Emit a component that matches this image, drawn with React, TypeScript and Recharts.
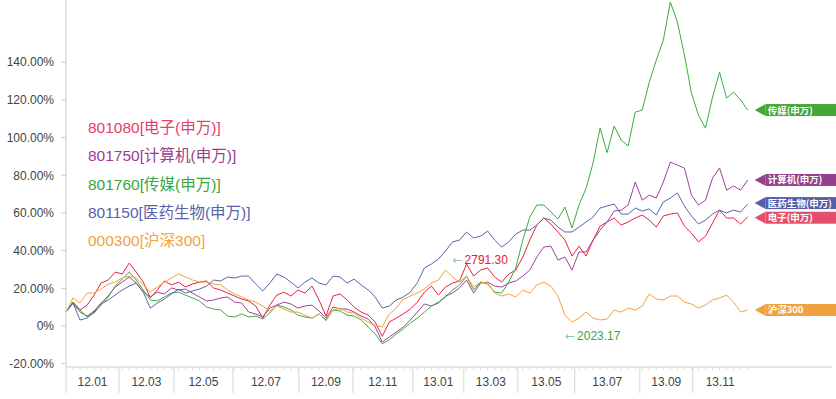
import { LineChart, Line, XAxis, YAxis, ReferenceDot } from "recharts";

// weekly readings, % change, Dec 2011 .. Dec 2013
const electronics = [
  7.4, 12.7, 8.5, 11.1, 16.4, 22.8, 24.4, 28.6, 27.6, 33.4, 28.6, 23.3, 14.9, 19.1, 23.9, 21.8, 23.3, 20.7, 22.3, 23.3,
  23.9, 20.2, 19.1, 17.5, 15.9, 14.3, 13.3, 10.6, 4.2, 11.1, 16.4, 18.0, 15.9, 19.1, 17.5, 21.2, 13.8, 5.3, 15.9, 17.0,
  13.8, 10.1, 7.4, 5.8, 2.1, -5.5, 2.1, 4.2, 6.4, 9.0, 12.7, 18.0, 21.2, 16.4, 20.7, 22.8, 23.9, 32.9, 26.5, 29.7,
  30.8, 26.0, 23.3, 27.6, 29.7, 36.6, 45.6, 53.6, 57.3, 54.1, 49.9, 45.6, 37.1, 42.4, 37.1, 45.6, 53.0, 55.2, 57.3, 53.6,
  55.2, 57.3, 58.9, 56.2, 52.5, 58.4, 59.4, 60.0, 53.0, 49.3, 44.6, 47.7, 54.6, 61.5, 57.3, 57.3, 54.1, 58.0,
];
const computer = [
  7.4, 12.2, 7.4, 5.3, 8.0, 12.2, 15.9, 20.7, 23.3, 26.0, 22.8, 18.0, 15.4, 18.0, 17.0, 20.2, 19.1, 19.6, 17.5, 15.4,
  13.3, 13.8, 14.9, 15.4, 12.7, 12.2, 7.4, 6.4, 4.8, 9.5, 11.1, 12.7, 11.7, 9.5, 10.6, 11.1, 8.0, 4.2, 10.1, 9.0,
  9.0, 7.4, 5.3, 3.7, -0.5, -8.5, -5.8, -3.2, -0.5, 3.2, 7.4, 11.7, 10.6, 12.2, 15.9, 17.5, 20.2, 24.4, 17.5, 22.8,
  23.3, 21.2, 20.7, 22.8, 23.9, 26.5, 29.7, 36.6, 41.9, 42.4, 35.0, 36.6, 29.7, 39.3, 39.3, 45.6, 50.9, 55.2, 61.0, 61.5,
  64.2, 76.4, 66.8, 69.5, 67.9, 76.4, 87.0, 85.4, 83.8, 69.5, 64.2, 66.8, 78.5, 83.8, 72.1, 74.3, 72.1, 77.5,
];
const media = [
  7.4, 12.7, 8.5, 4.8, 6.9, 11.1, 15.4, 21.2, 24.9, 28.6, 24.4, 19.1, 13.8, 13.3, 15.4, 17.5, 18.0, 16.4, 14.9, 13.3,
  10.1, 9.0, 8.5, 5.3, 4.8, 6.4, 4.8, 5.3, 3.7, 6.9, 11.1, 10.1, 8.5, 5.8, 4.8, 4.2, 6.4, 3.2, 8.5, 8.0,
  5.8, 5.3, 3.2, -0.5, -4.2, -9.5, -7.4, -4.2, -1.6, 1.6, 4.2, 7.4, 10.6, 12.7, 15.4, 19.1, 21.8, 26.5, 19.1, 23.3,
  22.3, 18.0, 17.5, 23.3, 30.8, 45.6, 57.8, 64.2, 64.2, 60.5, 56.8, 63.1, 52.0, 64.2, 73.0, 86.5, 105.0, 92.0, 106.1, 98.7,
  95.5, 113.5, 114.6, 129.4, 141.1, 151.7, 171.9, 161.3, 143.8, 123.6, 111.9, 105.0, 121.5, 134.7, 121.0, 124.1, 119.9, 114.6,
];
const pharma = [
  7.4, 12.2, 3.2, 4.2, 7.4, 11.7, 13.8, 16.4, 19.1, 21.2, 22.8, 18.0, 9.5, 12.2, 14.3, 17.0, 19.6, 17.5, 18.6, 19.6,
  21.2, 24.4, 23.9, 26.0, 25.5, 26.5, 26.5, 22.3, 18.6, 22.8, 27.6, 26.0, 23.3, 20.2, 23.3, 25.5, 22.8, 21.8, 26.5, 26.0,
  22.8, 24.9, 21.8, 19.1, 15.4, 9.5, 10.6, 13.8, 15.4, 18.0, 23.0, 30.8, 32.9, 35.5, 39.8, 44.6, 45.6, 49.9, 46.7, 47.7,
  50.4, 45.6, 41.9, 44.6, 48.8, 50.9, 50.9, 53.6, 57.3, 56.2, 52.5, 49.9, 49.9, 52.5, 55.2, 57.8, 62.6, 63.7, 64.7, 59.4,
  59.4, 62.6, 61.0, 62.1, 58.9, 65.8, 67.9, 70.6, 63.7, 58.4, 54.1, 56.2, 59.4, 61.5, 60.0, 61.5, 60.5, 64.7,
];
const csi300 = [
  7.4, 14.9, 12.2, 17.5, 17.5, 19.6, 22.3, 23.3, 25.5, 26.5, 25.5, 21.8, 18.0, 20.7, 23.3, 25.5, 27.6, 26.0, 24.4, 23.3,
  23.3, 22.3, 21.8, 19.1, 17.0, 15.4, 13.8, 12.7, 10.6, 8.0, 10.6, 9.0, 7.4, 7.4, 5.8, 4.2, 6.4, 2.7, 8.5, 9.5,
  7.4, 6.9, 4.2, 2.1, 0.5, -0.5, 6.4, 9.5, 14.3, 15.9, 17.5, 19.6, 22.8, 24.4, 29.7, 26.0, 23.3, 26.5, 20.7, 23.3,
  22.8, 17.5, 15.9, 17.0, 15.4, 19.1, 17.5, 21.8, 23.3, 21.2, 15.9, 5.8, 2.1, 4.2, 7.4, 4.2, 3.2, 3.7, 8.5, 7.4,
  9.5, 8.5, 10.6, 17.0, 14.3, 13.8, 15.9, 15.9, 12.7, 11.7, 9.5, 11.1, 13.8, 14.9, 16.4, 12.7, 7.4, 8.5,
];

// x-axis: two-month periods, start position in weeks
const periodLabels = ["12.01", "12.03", "12.05", "12.07", "12.09", "12.11", "13.01", "13.03", "13.05", "13.07", "13.09", "13.11"];
const periodStarts = [0, 7.54, 15.36, 23.76, 33.14, 40.83, 49.36, 56.61, 64.3, 72.4, 81.65, 89.19, 97];

const yTicks = [-20, 0, 20, 40, 60, 80, 100, 120, 140];

// CSI 300 extreme-point notes
const csiNotes = [
  { index: 54, text: "2791.30", color: "#e0203c", dx: 7, dy: -6 },
  { index: 72, text: "2023.17", color: "#3aa63a", dx: -7, dy: 18 },
];

const series = [
  { key: "ele", code: "801080", name: "电子(申万)", flagText: "电子(申万)", values: electronics, color: "#e8213f", text: "#e5416a", flag: "#e44e6b", nudge: 1 },
  { key: "com", code: "801750", name: "计算机(申万)", flagText: "计算机(申万)", values: computer, color: "#a0409a", text: "#9b3c8e", flag: "#953f8d", nudge: 0 },
  { key: "med", code: "801760", name: "传媒(申万)", flagText: "传媒(申万)", values: media, color: "#3cac3c", text: "#3aa63a", flag: "#45a537", nudge: 0 },
  { key: "pha", code: "801150", name: "医药生物(申万)", flagText: "医药生物(申万)", values: pharma, color: "#5c62ad", text: "#5a62aa", flag: "#555ea8", nudge: -1 },
  { key: "csi", code: "000300", name: "沪深300", flagText: "沪深300", values: csi300, color: "#f4a23a", text: "#f3a23c", flag: "#efa23f", nudge: 0 },
];

const rows = electronics.map((_, i) => {
  const r: Record<string, number> = { i };
  series.forEach((s) => (r[s.key] = s.values[i]));
  return r;
});
const last = electronics.length - 1;

const midTicks = periodLabels.map((_, k) => (periodStarts[k] + periodStarts[k + 1]) / 2);
const bounds = periodStarts.slice(0, periodLabels.length);
const minorTicks = rows.map((r) => r.i);
const xTicks = Array.from(new Set([...minorTicks, ...bounds, ...midTicks])).sort((a, b) => a - b);

const FONT = "'Liberation Sans', 'Noto Sans CJK SC', sans-serif";

const XTick = (props: any) => {
  const { x, y, payload } = props;
  const v = payload.value;
  const k = midTicks.indexOf(v);
  if (k >= 0) {
    return (
      <text x={x} y={y + 19} textAnchor="middle" fontSize={12} fill="#444" fontFamily={FONT}>
        {periodLabels[k]}
      </text>
    );
  }
  if (bounds.indexOf(v) >= 0) return <line x1={x} x2={x} y1={y} y2={y + 26} stroke="#d4d4d4" />;
  return <line x1={x} x2={x} y1={y} y2={y + 3} stroke="#dddddd" />;
};

const Flag = ({ cx, cy, fill, text }: any) => (
  <g>
    <polygon points={`${cx + 7},${cy} ${cx + 18},${cy - 6} ${cx + 18},${cy + 6}`} fill={fill} />
    <rect x={cx + 18} y={cy - 6} width={80} height={12} fill={fill} />
    <text x={cx + 20} y={cy + 3.5} fill="#fff" fontSize={9.5} fontWeight="bold" fontFamily="'Noto Sans CJK SC', sans-serif">
      {text}
    </text>
  </g>
);

export default function App() {
  return (
    <div style={{ position: "relative", width: 836, height: 399, background: "#fff" }}>
      <style>{"body{margin:0;}"}</style>
      <LineChart width={836} height={399} data={rows} margin={{ top: 0, right: 4, bottom: 0, left: 0 }}>
        <XAxis
          type="number"
          dataKey="i"
          domain={[0, 109]}
          ticks={xTicks}
          interval={0}
          tick={<XTick />}
          tickLine={false}
          tickSize={0}
          tickMargin={0}
          axisLine={{ stroke: "#cccccc" }}
          height={32}
        />
        <YAxis
          domain={[-21.75, 173]}
          ticks={yTicks}
          interval={0}
          width={66}
          tickSize={5}
          tickMargin={7}
          axisLine={{ stroke: "#cccccc" }}
          tickLine={{ stroke: "#cccccc" }}
          tick={{ fill: "#444", fontSize: 12, fontFamily: FONT }}
          tickFormatter={(v: number) => (v === 0 ? "0%" : `${v.toFixed(2)}%`)}
        />
        {series.map((s) => (
          <Line
            key={s.key}
            dataKey={s.key}
            type="linear"
            stroke={s.color}
            strokeWidth={1}
            dot={false}
            activeDot={false}
            isAnimationActive={false}
          />
        ))}
        {series.map((s) => (
          <ReferenceDot
            key={"flag-" + s.key}
            x={last}
            y={s.values[last]}
            r={0}
            ifOverflow="visible"
            shape={(p: any) => <Flag cx={p.cx} cy={p.cy + s.nudge} fill={s.flag} text={s.flagText} />}
          />
        ))}
        {csiNotes.map((n) => (
          <ReferenceDot
            key={"note-" + n.index}
            x={n.index}
            y={csi300[n.index]}
            r={0}
            ifOverflow="visible"
            shape={(p: any) => (
              <text x={p.cx + n.dx} y={p.cy + n.dy} fontSize={12} fontFamily={FONT}>
                <tspan fill="#93c4c4" fontFamily="'DejaVu Sans'">←</tspan>
                <tspan fill={n.color} dx={2}>{n.text}</tspan>
              </text>
            )}
          />
        ))}
      </LineChart>
      {series.map((s, k) => (
        <div
          key={"lg-" + s.key}
          style={{
            position: "absolute",
            left: 88,
            top: 118 + k * 28.3,
            fontSize: 15.5,
            lineHeight: "20px",
            color: s.text,
            fontFamily: FONT,
            whiteSpace: "nowrap",
          }}
        >
          {s.code}[{s.name}]
        </div>
      ))}
    </div>
  );
}
